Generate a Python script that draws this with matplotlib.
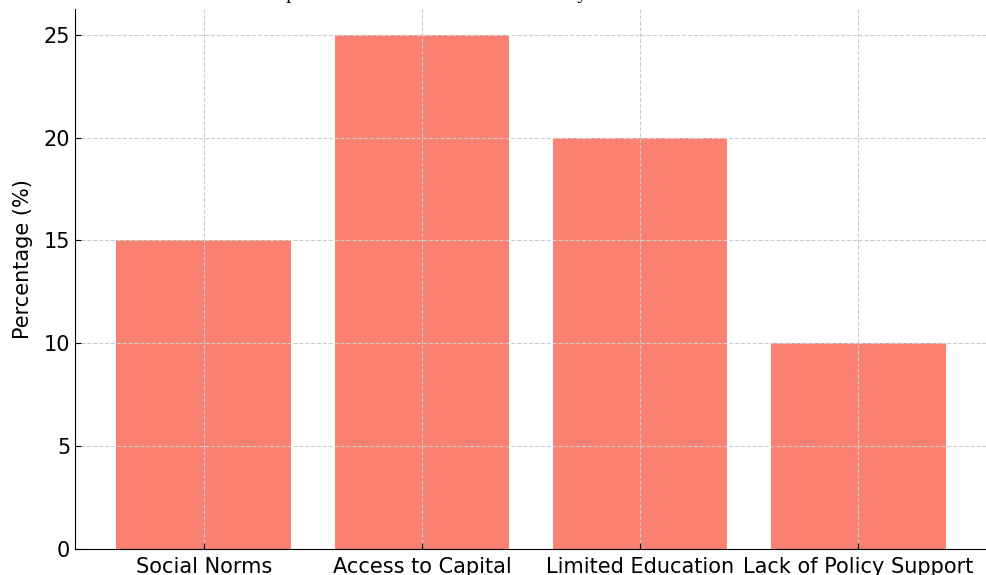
import matplotlib
matplotlib.use("Agg")
import matplotlib.pyplot as plt

# Share of respondents citing each barrier
categories = ["Social Norms", "Access to Capital", "Limited Education", "Lack of Policy Support"]
percentages = [15, 25, 20, 10]
yticks = [0, 5, 10, 15, 20, 25]
title = "Impact of Barriers on Women in Society"

plt.rcParams["font.family"] = ["DejaVu Sans"]

fig = plt.figure(figsize=(9.87, 5.75), dpi=100)
ax = fig.add_axes([75 / 987, 26 / 575, 912 / 987, 540 / 575])

ax.bar(categories, percentages, color="#FA8072", width=0.8)
ax.set_yticks(yticks)
ax.set_ylabel("Percentage (%)", fontsize=15)
ax.yaxis.set_label_coords(-0.046, 0.537)
ax.tick_params(axis="both", direction="in", labelsize=15, length=4)
ax.tick_params(axis="x", pad=5.5)
ax.grid(True, linestyle="--", color="#cccccc", linewidth=0.8)
for side in ("top", "right"):
    ax.spines[side].set_visible(False)

fig.text(264 / 987, 1 + 2 / 575, title, fontsize=14.4, family="Liberation Serif",
         ha="left", va="baseline")

fig.savefig("out.png", dpi=100)
